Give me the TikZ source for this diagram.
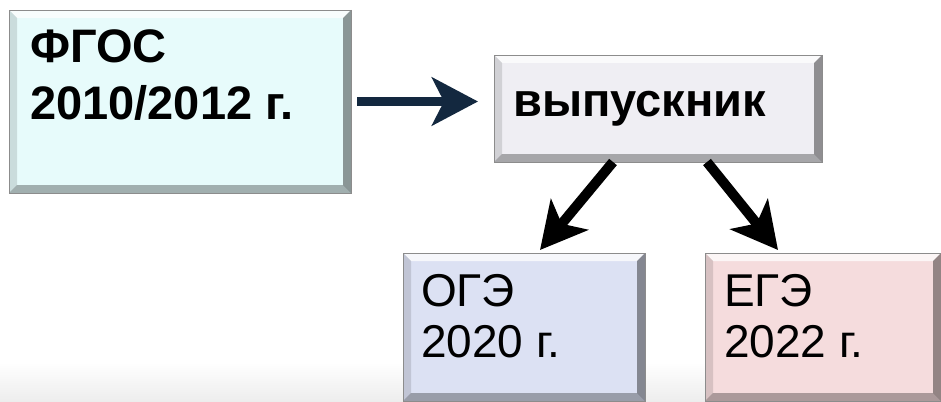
\documentclass[tikz,border=0pt]{standalone}
\usepackage{fontspec}
\setmainfont{Liberation Sans}
\usetikzlibrary{arrows.meta}
\definecolor{fgosfill}{HTML}{E7FBFB}
\definecolor{gradfill}{HTML}{EFEEF3}
\definecolor{ogefill}{HTML}{DCE1F3}
\definecolor{egefill}{HTML}{F5DCDD}
\definecolor{navy}{HTML}{13283F}
% bevelled edge round a box node
\newcommand{\bevel}[1]{%
\fill[white,opacity=.75] (#1.north west)--(#1.north east)--([shift={(-8pt,-8pt)}]#1.north east)--([shift={(8pt,-8pt)}]#1.north west)--cycle;
\fill[black,opacity=.12] (#1.north west)--([shift={(8pt,-8pt)}]#1.north west)--([shift={(8pt,8pt)}]#1.south west)--(#1.south west)--cycle;
\fill[black,opacity=.4] (#1.north east)--(#1.south east)--([shift={(-8pt,8pt)}]#1.south east)--([shift={(-8pt,-8pt)}]#1.north east)--cycle;
\fill[black,opacity=.3] (#1.south west)--([shift={(8pt,8pt)}]#1.south west)--([shift={(-8pt,8pt)}]#1.south east)--(#1.south east)--cycle;
\draw[black!45,line width=.8pt] (#1.north west) rectangle (#1.south east);}
\begin{document}
\begin{tikzpicture}[x=1pt,y=-1pt,
  box/.style={rectangle,inner sep=0,outer sep=0},
  bigb/.style={anchor=base west,inner sep=0,font=\fontsize{47}{54}\selectfont\bfseries},
  big/.style={anchor=base west,inner sep=0,font=\fontsize{46}{53}\selectfont},
  thick arrow/.style={line width=10pt,-{Stealth[length=46pt,width=48pt,inset=12pt]}}]
\useasboundingbox (0,0) rectangle (941,401);
% floor
\shade[top color=white,bottom color=black!7] (0,362) rectangle (941,401);
% boxes
\node[box,fill=fgosfill,minimum width=342pt,minimum height=183pt] (fgos) at (180,101.5) {};
\node[box,fill=gradfill,minimum width=328pt,minimum height=107pt] (grad) at (658,108.5) {};
\node[box,fill=ogefill,minimum width=242pt,minimum height=148pt] (oge) at (524,327) {};
\node[box,fill=egefill,minimum width=236pt,minimum height=148pt] (ege) at (823,327) {};
\foreach \b in {fgos,grad,oge,ege} {\bevel{\b}}
% texts
\node[bigb] (fgosA) at (30,63) {ФГОС};
\node[bigb] (fgosB) at (30,120) {2010/2012 г.};
\node[bigb] (gradA) at (513,117) {выпускник};
\node[big] (ogeA) at (421,306) {ОГЭ};
\node[big] (ogeB) at (421,357) {2020 г.};
\node[big] (egeA) at (724,306) {ЕГЭ};
\node[big] (egeB) at (724,357) {2022 г.};
% arrows
\draw[thick arrow,navy,line width=9pt] ([xshift=6pt]fgos.east) -- ([xshift=-16pt]fgos.east -| grad.west);
\draw[thick arrow] ([xshift=-45pt]grad.south) -- ([xshift=16pt,yshift=3pt]oge.north);
\draw[thick arrow] ([xshift=49pt]grad.south) -- ([xshift=-45pt,yshift=3pt]ege.north);
\end{tikzpicture}
\end{document}
